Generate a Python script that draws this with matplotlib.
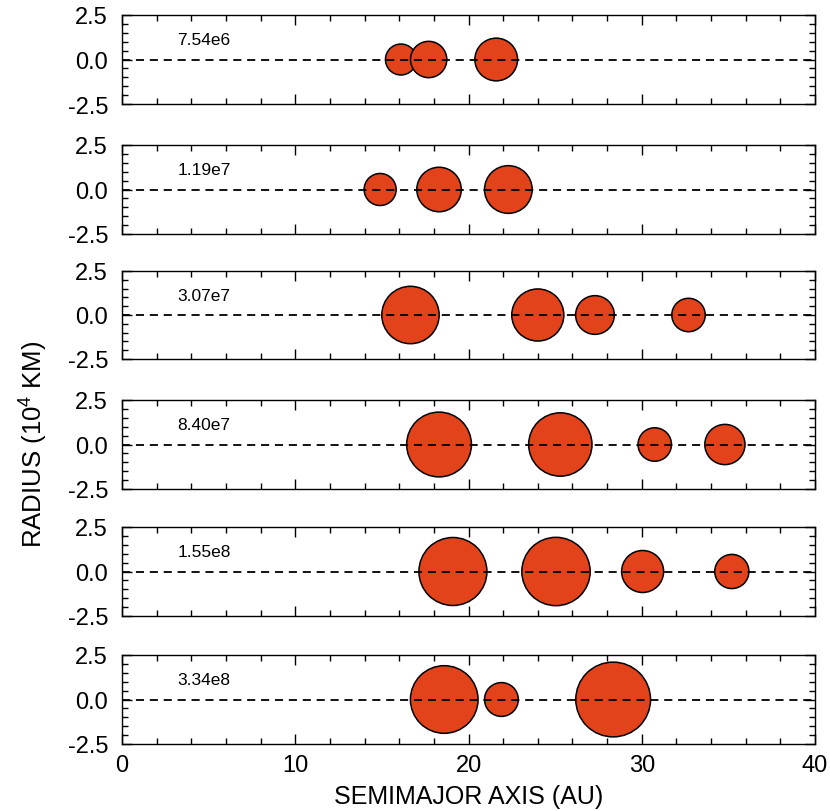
import matplotlib
matplotlib.use("Agg")
import matplotlib.pyplot as plt
from matplotlib.patches import Ellipse
from matplotlib.ticker import MultipleLocator

plt.rcParams['font.family'] = ['Liberation Sans', 'DejaVu Sans']
plt.rcParams['mathtext.fontset'] = 'custom'
plt.rcParams['mathtext.rm'] = 'Liberation Sans'
plt.rcParams['mathtext.it'] = 'Liberation Sans'

# Data: times (panel labels), semimajor axes (AU), radii (10^4 km)
times = ["7.54e6", "1.19e7", "3.07e7", "8.40e7", "1.55e8", "3.34e8"]
axis_au = [
    [16.1, 17.7, 21.6],
    [14.9, 18.3, 22.3],
    [16.65, 24.0, 27.3, 32.7],
    [18.3, 25.3, 30.75, 34.8],
    [19.1, 25.05, 30.05, 35.2],
    [18.6, 21.9, 28.35],
]
radius = [
    [0.87, 1.02, 1.2],
    [0.9, 1.25, 1.34],
    [1.63, 1.48, 1.1, 0.95],
    [1.82, 1.78, 0.94, 1.13],
    [1.91, 1.92, 1.18, 0.96],
    [1.9, 0.95, 2.1],
]

W, H = 830, 812
fig = plt.figure(figsize=(W / 100, H / 100), dpi=100)

left_px, right_px = 122, 815
panels_px = [(16, 105), (146, 235), (272, 360), (401, 490), (528, 617), (656, 745)]

fill = '#E2431B'
for i, (top, bot) in enumerate(panels_px):
    ax = fig.add_axes([left_px / W, 1 - bot / H, (right_px - left_px) / W, (bot - top) / H])
    ax.set_xlim(0, 40)
    ax.set_ylim(-2.5, 2.5)
    xs = (right_px - left_px) / 40.0
    ys = (bot - top) / 5.0
    for a, r in zip(axis_au[i], radius[i]):
        e = Ellipse((a, 0), width=2 * r * ys / xs, height=2 * r,
                    facecolor=fill, edgecolor='black', linewidth=1.1, zorder=2)
        ax.add_patch(e)
    ax.axhline(0, color='black', linewidth=1.3, dashes=(4.5, 3.2), zorder=3)
    ax.text(3.2, 1.1, times[i], fontsize=12.5, va='center', ha='left')
    ax.set_yticks([-2.5, 0.0, 2.5])
    ax.set_yticklabels(['-2.5', '0.0', '2.5'])
    ax.yaxis.set_minor_locator(MultipleLocator(0.5))
    ax.xaxis.set_major_locator(MultipleLocator(10))
    ax.xaxis.set_minor_locator(MultipleLocator(2))
    ax.tick_params(which='both', direction='in', top=True, right=True, width=1)
    ax.tick_params(which='major', length=7)
    ax.tick_params(which='minor', length=4)
    ax.tick_params(axis='y', which='major', labelsize=17, pad=10)
    ax.tick_params(axis='x', which='major', labelsize=17, pad=7)
    for s in ax.spines.values():
        s.set_linewidth(1.0)
    if i < 5:
        ax.set_xticklabels([])
    else:
        ax.set_xlabel('SEMIMAJOR AXIS (AU)', fontsize=18, labelpad=6)

fig.text(34 / W, 1 - 444 / H, 'RADIUS (10$^{4}$ KM)', rotation=90, fontsize=18.5,
         ha='center', va='center')

fig.savefig('out.png', dpi=100, facecolor='white')
